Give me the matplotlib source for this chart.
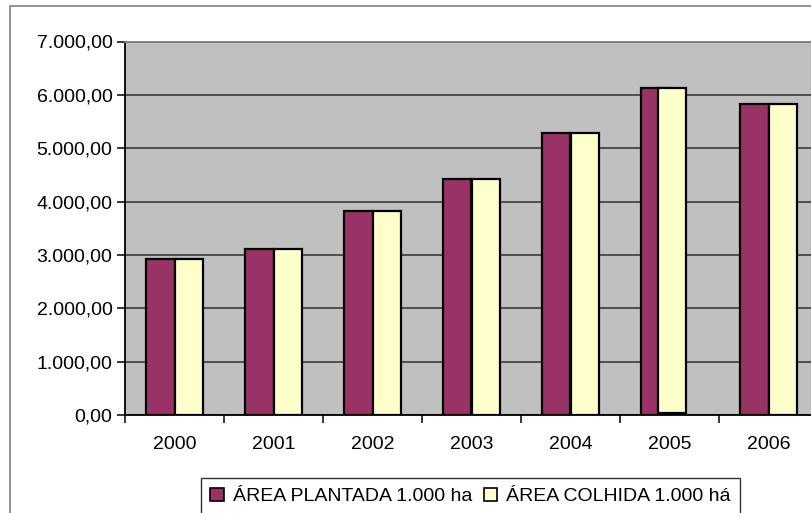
import matplotlib
matplotlib.use("Agg")
import matplotlib.pyplot as plt
from matplotlib.patches import Rectangle
from matplotlib.ticker import FuncFormatter, FixedLocator
import numpy as np

years = ["2000", "2001", "2002", "2003", "2004", "2005", "2006"]
plantada = [2920, 3120, 3830, 4430, 5280, 6130, 5820]
colhida = [2920, 3120, 3830, 4430, 5280, 6130, 5820]
label_plantada = "ÁREA PLANTADA 1.000 ha"
label_colhida = "ÁREA COLHIDA 1.000 há"

plt.rcParams['font.family'] = ['Liberation Sans', 'DejaVu Sans']

W, H = 811, 513
fig = plt.figure(figsize=(W / 100, H / 100), dpi=100)
fig.patch.set_facecolor('white')

# outer chart-area frame (extends beyond the right/bottom edges)
fig.patches.append(Rectangle((10 / W, -0.2), 2.0, 1 - 6 / H + 0.2, transform=fig.transFigure,
                             fill=False, edgecolor='#808080', lw=1.2, zorder=0))

ax = fig.add_axes([125 / W, 1 - 415 / H, 693 / W, (415 - 41.5) / H])
ax.set_facecolor('#C0C0C0')

x = np.arange(len(years))
bw = 0.283
ax.bar(x - bw / 2, plantada, width=bw, color='#993366', edgecolor='black', lw=1.6, zorder=3,
       label=label_plantada)
bars = ax.bar(x + bw / 2, colhida, width=bw, color='#FFFFCC', edgecolor='black', lw=1.6, zorder=4,
              label=label_colhida)
# rendering quirk in the original for 2005's second bar
b = bars[5]
b.set_x(b.get_x() - 0.12)
b.set_y(35)
b.set_height(b.get_height() - 35)

ax.set_xlim(-0.5, len(years) - 0.5)
ax.set_ylim(0, 7000)
ax.set_yticks(np.arange(0, 7001, 1000))
ax.yaxis.set_major_formatter(FuncFormatter(lambda v, p: f"{v:,.2f}".replace(",", "X").replace(".", ",").replace("X", ".")))
ax.grid(axis='y', color='#303030', lw=1.1, zorder=1)
ax.set_axisbelow(True)

fs = 14
ax.set_xticks(x)
ax.set_xticklabels(years)
ax.xaxis.set_minor_locator(FixedLocator(np.arange(-0.5, len(years) + 0.5, 1)))
ax.tick_params(axis='x', which='major', length=0, pad=15, labelsize=fs)
ax.tick_params(axis='x', which='minor', length=6, width=1.1, color='black', direction='out')
ax.tick_params(axis='y', length=6, width=1.1, direction='out', labelsize=fs, pad=3)

for s in ['left', 'bottom']:
    ax.spines[s].set_color('black')
    ax.spines[s].set_linewidth(1.3)
ax.spines['top'].set_color('#808080')
ax.spines['top'].set_linewidth(1.3)
ax.spines['right'].set_visible(False)

leg = fig.legend(loc='upper center', bbox_to_anchor=(470.5 / W, 1 - 478 / H), ncol=2,
                 frameon=True, fancybox=False, edgecolor='black', fontsize=fs,
                 handlelength=0.7, handleheight=0.7, handletextpad=0.45, columnspacing=0.6,
                 borderpad=0.5, borderaxespad=0)
leg.get_frame().set_linewidth(1.0)
for h in leg.legend_handles:
    h.set_linewidth(1.2)

fig.savefig('out.png', dpi=100)
